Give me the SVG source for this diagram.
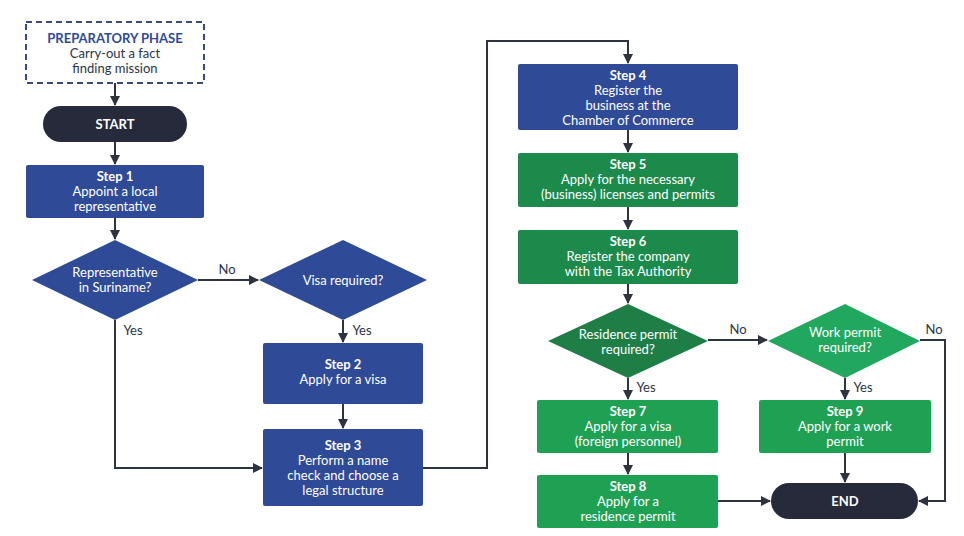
<svg xmlns="http://www.w3.org/2000/svg" width="964" height="536" viewBox="0 0 964 536">
<style>
text{font-family:Lato,"Open Sans","Liberation Sans",sans-serif;font-size:13px;text-anchor:middle;fill:#fff}
.b{font-weight:bold}
.d{fill:#2b3544}
.blue{fill:#2f4a96}.term{fill:#262a3a}.g1{fill:#1e7e46}.g2{fill:#1c8a4a}.g3{fill:#1fa154}.g4{fill:#22a85e}
.c{fill:none;stroke:#2f3340;stroke-width:2;marker-end:url(#ah)}
</style>
<defs><marker id="ah" viewBox="0 0 10 10" refX="9" refY="5" markerWidth="5" markerHeight="5" orient="auto"><path d="M0,0L10,5L0,10z" fill="#2f3340"/></marker></defs>
<rect width="964" height="536" fill="#fff"/>
<g id="connectors">
<path class="c" d="M115,83V105"/>
<path class="c" d="M115,142V164"/>
<path class="c" d="M115,218V239"/>
<path class="c" d="M198,280H258"/>
<path class="c" d="M343,320V342"/>
<path class="c" d="M343,404V428"/>
<path class="c" d="M115,320V468H262"/>
<path class="c" d="M423,468H487V41H628V63"/>
<path class="c" d="M628,130V152"/>
<path class="c" d="M628,207V229"/>
<path class="c" d="M628,284V303"/>
<path class="c" d="M708,340H767"/>
<path class="c" d="M628,378V399"/>
<path class="c" d="M628,453V474"/>
<path class="c" d="M845,378V399"/>
<path class="c" d="M718,501H770"/>
<path class="c" d="M845,453V482"/>
<path class="c" d="M920,340H945V501H919"/>
<text class="d" x="227" y="274">No</text>
<text class="d" x="362" y="335">Yes</text>
<text class="d" x="133" y="335">Yes</text>
<text class="d" x="738" y="334">No</text>
<text class="d" x="934" y="334">No</text>
<text class="d" x="646" y="392">Yes</text>
<text class="d" x="863" y="392">Yes</text>
</g>
<g id="prep"><rect x="26" y="22" width="178" height="61" fill="#fff" stroke="#3a4a7a" stroke-width="2" stroke-dasharray="6,4"/>
<text class="b" x="115" y="43" style="fill:#2f4a96">PREPARATORY PHASE</text><text class="d" x="115" y="58">Carry-out a fact</text><text class="d" x="115" y="73">finding mission</text></g>
<g id="start"><rect class="term" x="43" y="106" width="144" height="36" rx="18"/><text class="b" x="115" y="129">START</text></g>
<g id="step1"><rect class="blue" x="26" y="165" width="178" height="53" rx="2"/><text class="b" x="115" y="181">Step 1</text><text x="115" y="196">Appoint a local</text><text x="115" y="211">representative</text></g>
<g id="dec1"><path class="blue" d="M115,240L198,280L115,320L32,280z"/><text x="115" y="277">Representative</text><text x="115" y="292">in Suriname?</text></g>
<g id="dec2"><path class="blue" d="M343,240L427,280L343,320L259,280z"/><text x="343" y="285">Visa required?</text></g>
<g id="step2"><rect class="blue" x="263" y="343" width="160" height="61" rx="2"/><text class="b" x="343" y="369">Step 2</text><text x="343" y="384">Apply for a visa</text></g>
<g id="step3"><rect class="blue" x="263" y="429" width="160" height="77" rx="2"/><text class="b" x="343" y="450">Step 3</text><text x="343" y="465">Perform a name</text><text x="343" y="480">check and choose a</text><text x="343" y="495">legal structure</text></g>
<g id="step4"><rect class="blue" x="518" y="64" width="220" height="66" rx="2"/><text class="b" x="628" y="80">Step 4</text><text x="628" y="95">Register the</text><text x="628" y="110">business at the</text><text x="628" y="125">Chamber of Commerce</text></g>
<g id="step5"><rect class="g2" x="518" y="153" width="220" height="54" rx="2"/><text class="b" x="628" y="169">Step 5</text><text x="628" y="184">Apply for the necessary</text><text x="628" y="199">(business) licenses and permits</text></g>
<g id="step6"><rect class="g2" x="518" y="230" width="220" height="54" rx="2"/><text class="b" x="628" y="246">Step 6</text><text x="628" y="261">Register the company</text><text x="628" y="276">with the Tax Authority</text></g>
<g id="dec3"><path class="g1" d="M628,304L708,341L628,378L548,341z"/><text x="628" y="339">Residence permit</text><text x="628" y="354">required?</text></g>
<g id="dec4"><path class="g4" d="M845,304L920,341L845,378L768,341z"/><text x="845" y="337">Work permit</text><text x="845" y="352">required?</text></g>
<g id="step7"><rect class="g3" x="537" y="400" width="181" height="53" rx="2"/><text class="b" x="628" y="416">Step 7</text><text x="628" y="431">Apply for a visa</text><text x="628" y="446">(foreign personnel)</text></g>
<g id="step8"><rect class="g3" x="537" y="475" width="181" height="53" rx="2"/><text class="b" x="628" y="491">Step 8</text><text x="628" y="506">Apply for a</text><text x="628" y="521">residence permit</text></g>
<g id="step9"><rect class="g3" x="759" y="400" width="172" height="53" rx="2"/><text class="b" x="845" y="416">Step 9</text><text x="845" y="431">Apply for a work</text><text x="845" y="446">permit</text></g>
<g id="end"><rect class="term" x="771" y="483" width="147" height="36" rx="18"/><text class="b" x="845" y="506">END</text></g>
</svg>
